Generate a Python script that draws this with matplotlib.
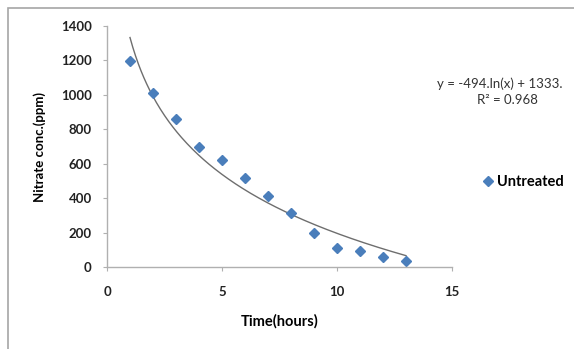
import numpy as np
import matplotlib.pyplot as plt
from matplotlib.patches import Rectangle

# data
hours = [1, 2, 3, 4, 5, 6, 7, 8, 9, 10, 11, 12, 13]
nitrate = [1195, 1010, 860, 700, 620, 515, 415, 315, 197, 112, 93, 58, 37]

# log trendline shown on the chart
slope = -494.0
intercept = 1333.0

plt.rcParams['font.family'] = ['Lato', 'DejaVu Sans']

fig = plt.figure(figsize=(5.74, 3.49), dpi=100)
fig.patches.append(Rectangle((8 / 574, -0.01), 1.0, 1 - 8 / 349 + 0.01, transform=fig.transFigure,
                             fill=False, edgecolor='#a6a6a6', linewidth=1.2))

ax = fig.add_axes([107 / 574, 1 - 267 / 349, (452 - 107) / 574, (267 - 26) / 349])

xt = np.linspace(min(hours), max(hours), 200)
ax.plot(xt, slope * np.log(xt) + intercept, color='#6e6e6e', linewidth=1.0)
ax.plot(hours, nitrate, linestyle='none', marker='D', markersize=5.5,
        color='#4a7ebb', label='Untreated')

ax.set_xlim(0, 15)
ax.set_ylim(0, 1400)
ax.set_xticks([0, 5, 10, 15])
ax.set_yticks(range(0, 1401, 200))

for s in ['top', 'right']:
    ax.spines[s].set_visible(False)
for s in ['left', 'bottom']:
    ax.spines[s].set_color('#b0b0b0')
    ax.spines[s].set_linewidth(1.0)
ax.tick_params(axis='both', direction='out', length=3, color='#b0b0b0',
               labelsize=9.5, labelcolor='#222222')
ax.tick_params(axis='x', pad=11)
ax.tick_params(axis='y', pad=8)
for lab in ax.get_xticklabels() + ax.get_yticklabels():
    lab.set_fontweight('bold')

ax.set_xlabel('Time(hours)', fontsize=10.5, fontweight='bold', labelpad=11)
ax.set_ylabel('Nitrate conc.(ppm)', fontsize=9.5, fontweight='bold', labelpad=11)

fig.text(437 / 574, 1 - 84 / 349, 'y = -494.ln(x) + 1333.', fontsize=9.5, ha='left',
         va='center', color='#333333')
fig.text(507 / 574, 1 - 100 / 349, 'R² = 0.968', fontsize=9.5, ha='center',
         va='center', color='#333333')

ax.legend(loc='center left', bbox_to_anchor=(482 / 574, 1 - 182 / 349),
          bbox_transform=fig.transFigure, frameon=False,
          prop={'size': 10.5, 'weight': 'bold'},
          handletextpad=0.2, handlelength=0.8, borderpad=0, borderaxespad=0)

fig.savefig('out.png', dpi=100)
